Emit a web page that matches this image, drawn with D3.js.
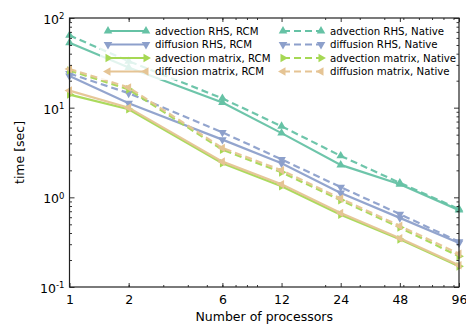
<!DOCTYPE html>
<html>
<head>
<meta charset="utf-8">
<script src="https://cdn.jsdelivr.net/npm/d3@7"></script>
<style>
  body { margin: 0; background: #fff; }
  text { font-family: "DejaVu Sans", sans-serif; fill: #000; }
</style>
</head>
<body>
<div class="chart"></div>
<script>
// processors on the x axis
var procs = [1, 2, 6, 12, 24, 48, 96];
var xTickLabels = ['1', '2', '6', '12', '24', '48', '96'];

// timings in seconds
var advRhsRcm = [53, 28, 11.4, 5.2, 2.3, 1.4, 0.72];
var difRhsRcm = [22.5, 11.2, 4.4, 2.4, 1.12, 0.59, 0.31];
var advMatRcm = [14, 9.6, 2.4, 1.33, 0.64, 0.34, 0.17];
var difMatRcm = [15.5, 10, 2.5, 1.4, 0.67, 0.35, 0.175];
var advRhsNative = [64, 33, 12.7, 6.2, 2.9, 1.45, 0.74];
var difRhsNative = [24, 14.5, 5.3, 2.65, 1.3, 0.65, 0.32];
var advMatNative = [26, 16, 3.4, 1.9, 0.93, 0.46, 0.22];
var difMatNative = [27, 16.8, 3.55, 2.0, 0.97, 0.48, 0.235];

var seriesNames = [
    'advection RHS, RCM', 'diffusion RHS, RCM', 'advection matrix, RCM', 'diffusion matrix, RCM',
    'advection RHS, Native', 'diffusion RHS, Native', 'advection matrix, Native', 'diffusion matrix, Native'
];
var seriesValues = [advRhsRcm, difRhsRcm, advMatRcm, difMatRcm,
    advRhsNative, difRhsNative, advMatNative, difMatNative];

var colors = ['#66c2a5', '#8da0cb', '#a6d854', '#e5c494'];
var markerRot = [0, 180, 90, -90];   // ^ v > <

var config = {};
config.svg = { width: 466, height: 328 };
config.margin = { top: 18, right: 7, bottom: 41, left: 69.5 };

var translate = (x, y) => "translate(" + x + "," + y + ")";

var svg = d3.select('.chart').append('svg')
    .attr('width', config.svg.width)
    .attr('height', config.svg.height);

// plot box edges (don't call these "top" - that is window.top)
var pBottom = config.svg.height - config.margin.bottom,
    pTop = config.margin.top,
    pLeft = config.margin.left,
    pRight = config.svg.width - config.margin.right;

var x = d3.scaleLog().domain([1, 96]).range([pLeft, pRight]);
var y = d3.scaleLog().domain([0.1, 100]).range([pBottom, pTop]);

// minor ticks 2..9 per decade
var xMinor = [];
[1, 10].forEach(p => d3.range(2, 10).forEach(k => { if (k * p < 96) xMinor.push(k * p); }));
var yMinor = [];
[0.1, 1, 10].forEach(p => d3.range(2, 10).forEach(k => yMinor.push(k * p)));

var rows = seriesNames.map((name, i) => ({
    name: name,
    color: colors[i % 4],
    rot: markerRot[i % 4],
    dashed: i >= 4,
    points: procs.map((p, j) => ({ p: p, v: seriesValues[i][j] }))
}));

var line = d3.line().x(d => x(d.p)).y(d => y(d.v));
var tri = d3.symbol().type(d3.symbolTriangle).size(32);

var plot = svg.append('g');

// draw series
rows.forEach(s => {
    plot.append('path')
        .attr('d', line(s.points))
        .attr('fill', 'none')
        .attr('stroke', s.color)
        .attr('stroke-width', 2.2)
        .attr('stroke-opacity', 0.95)
        .attr('stroke-dasharray', s.dashed ? '7,4' : null);
    plot.selectAll(null)
        .data(s.points)
        .enter().append('path')
        .attr('d', tri)
        .attr('fill', s.color)
        .attr('transform', d => translate(x(d.p), y(d.v)) + ' rotate(' + s.rot + ')');
});

// axes with inward ticks on all four sides
var axisStyle = g => {
    g.select('.domain').remove();
    g.selectAll('line').attr('stroke', '#000').attr('stroke-width', 0.8);
};

svg.append('g').attr('transform', translate(0, pBottom))
    .call(d3.axisBottom(x).tickValues(procs).tickFormat((d, i) => xTickLabels[i]).tickSize(-4).tickPadding(8))
    .call(axisStyle)
    .selectAll('text').attr('font-size', '12.5px').attr('font-family', 'DejaVu Sans');
svg.append('g').attr('transform', translate(0, pBottom))
    .call(d3.axisBottom(x).tickValues(xMinor).tickFormat('').tickSize(-2))
    .call(axisStyle);
svg.append('g').attr('transform', translate(0, pTop))
    .call(d3.axisTop(x).tickValues(procs).tickFormat('').tickSize(-4))
    .call(axisStyle);
svg.append('g').attr('transform', translate(0, pTop))
    .call(d3.axisTop(x).tickValues(xMinor).tickFormat('').tickSize(-2))
    .call(axisStyle);

var yMajor = [0.1, 1, 10, 100];
var yExp = ['-1', '0', '1', '2'];
var yAx = svg.append('g').attr('transform', translate(pLeft, 0))
    .call(d3.axisLeft(y).tickValues(yMajor).tickFormat('').tickSize(-5).tickPadding(6))
    .call(axisStyle);
yAx.selectAll('.tick text').each(function (d, i) {
    var t = d3.select(this).attr('font-size', '12.5px').attr('font-family', 'DejaVu Sans')
        .attr('x', -5).attr('dy', '0.45em');
    t.append('tspan').text('10');
    t.append('tspan').attr('dy', '-0.55em').attr('font-size', '8.5px').text(yExp[i]);
});
svg.append('g').attr('transform', translate(pLeft, 0))
    .call(d3.axisLeft(y).tickValues(yMinor).tickFormat('').tickSize(-2.5))
    .call(axisStyle);
svg.append('g').attr('transform', translate(pRight, 0))
    .call(d3.axisRight(y).tickValues(yMajor).tickFormat('').tickSize(-5))
    .call(axisStyle);
svg.append('g').attr('transform', translate(pRight, 0))
    .call(d3.axisRight(y).tickValues(yMinor).tickFormat('').tickSize(-2.5))
    .call(axisStyle);

// frame
svg.append('rect')
    .attr('x', pLeft).attr('y', pTop)
    .attr('width', pRight - pLeft).attr('height', pBottom - pTop)
    .attr('fill', 'none')
    .attr('stroke', '#222')
    .attr('stroke-width', 1.2);

// axis titles
svg.append('text')
    .attr('x', (pLeft + pRight) / 2)
    .attr('y', 321)
    .attr('text-anchor', 'middle')
    .attr('font-size', '12.5px')
    .text('Number of processors');

svg.append('text')
    .attr('transform', translate(24, (pTop + pBottom) / 2) + ' rotate(-90)')
    .attr('text-anchor', 'middle')
    .attr('font-size', '12.5px')
    .text('time [sec]');

// legend, two columns with a semi-transparent box
var legend = svg.append('g').attr('id', 'legend');
legend.append('rect')
    .attr('x', 100).attr('y', 22)
    .attr('width', 350).attr('height', 58)
    .attr('fill', '#fff')
    .attr('fill-opacity', 0.8);

var colX = [108, 283];
var rowY = [31, 44.5, 58, 71.5];
rows.forEach((s, i) => {
    var cx = colX[Math.floor(i / 4)], cy = rowY[i % 4];
    var g = legend.append('g').attr('transform', translate(cx, cy));
    g.append('line')
        .attr('x1', 0).attr('x2', 38)
        .attr('stroke', s.color)
        .attr('stroke-width', 2.2)
        .attr('stroke-dasharray', s.dashed ? '7,4' : null);
    [0, 38].forEach(px => {
        g.append('path')
            .attr('d', tri)
            .attr('fill', s.color)
            .attr('transform', translate(px, 0) + ' rotate(' + s.rot + ')');
    });
    g.append('text')
        .attr('x', 47)
        .attr('dy', '0.35em')
        .attr('font-size', '10.2px')
        .text(s.name);
});
</script>
</body>
</html>
